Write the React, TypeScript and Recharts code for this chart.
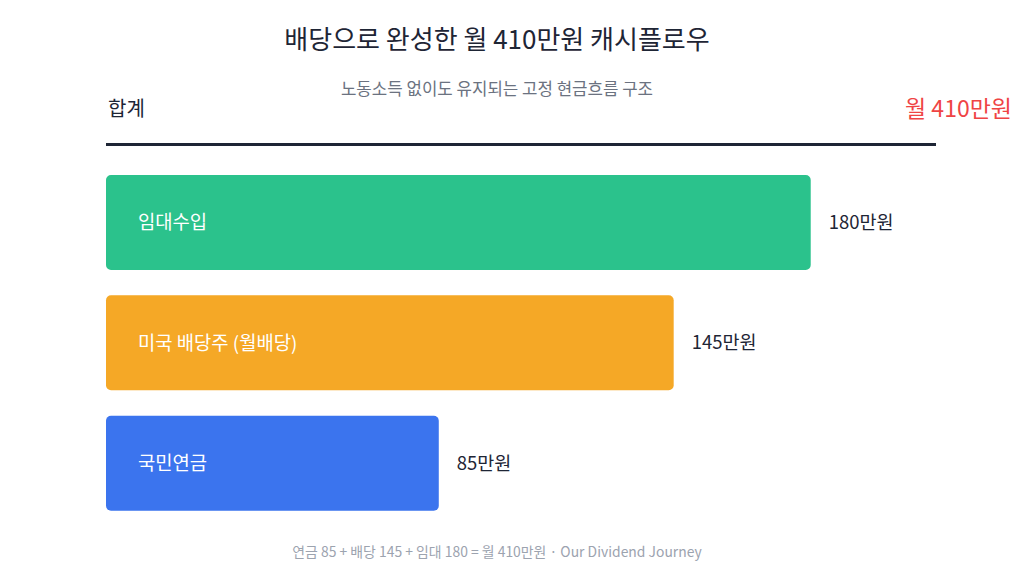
import React from 'react';
import { BarChart, Bar, XAxis, YAxis, LabelList, Cell } from 'recharts';

const categories = ['임대수입', '미국 배당주 (월배당)', '국민연금'];
const values = [180, 145, 85];
const colors = ['#2BC28C', '#F5A826', '#3B74EE'];
const totalLabel = '월 410만원';

const data = categories.map((name, i) => ({ name, value: values[i] }));

const FONT = '"Noto Sans CJK KR", "Noto Sans", sans-serif';

export default function App() {
  return (
    <div style={{ position: 'fixed', left: 0, top: 0, width: 1024, height: 576, background: '#fff', fontFamily: FONT }}>
      <div style={{ position: 'absolute', left: 0, width: 994, top: 20, textAlign: 'center', fontSize: 26, color: '#1E2535', lineHeight: '36px' }}>
        배당으로 완성한 월 410만원 캐시플로우
      </div>
      <div style={{ position: 'absolute', left: 0, width: 994, top: 77, textAlign: 'center', fontSize: 16.8, color: '#6B7280', lineHeight: '22px' }}>
        노동소득 없이도 유지되는 고정 현금흐름 구조
      </div>
      <div style={{ position: 'absolute', left: 108, top: 94, fontSize: 20, color: '#1E2535', lineHeight: '28px' }}>합계</div>
      <div style={{ position: 'absolute', right: 12, top: 92, fontSize: 23, color: '#EF4444', lineHeight: '30px' }}>{totalLabel}</div>
      <div style={{ position: 'absolute', left: 106, top: 143, width: 830, height: 3, background: '#1E2535' }} />
      <div style={{ position: 'absolute', left: 0, width: 994, top: 541, textAlign: 'center', fontSize: 13.9, color: '#9CA3AF', lineHeight: '20px' }}>
        연금 85 + 배당 145 + 임대 180 = 월 410만원 · Our Dividend Journey
      </div>
      <div style={{ position: 'absolute', left: 0, top: 0 }}>
        <BarChart width={1024} height={576} data={data} layout="vertical" margin={{ top: 162, right: 88, bottom: 53, left: 106 }}>
          <XAxis type="number" domain={[0, 212]} hide />
          <YAxis type="category" dataKey="name" hide width={0} />
          <Bar dataKey="value" barSize={95} radius={[5, 5, 5, 5]} isAnimationActive={false}>
            {data.map((d, i) => (
              <Cell key={d.name} fill={colors[i]} />
            ))}
            <LabelList dataKey="name" position="insideLeft" offset={32} fill="#FFFFFF" style={{ fontSize: 18.8, fontFamily: FONT }} />
            <LabelList dataKey="value" position="right" offset={18} fill="#1E2535" formatter={(v: any) => `${v}만원`} style={{ fontSize: 18.5, fontFamily: FONT }} />
          </Bar>
        </BarChart>
      </div>
    </div>
  );
}
